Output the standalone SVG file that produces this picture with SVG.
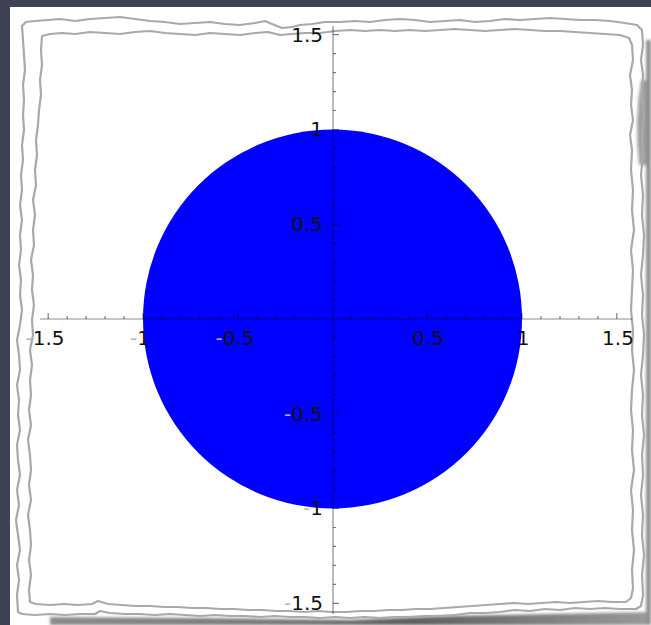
<svg xmlns="http://www.w3.org/2000/svg" width="651" height="625" viewBox="0 0 651 625">
<defs>
<style>
.edge{fill:none;stroke:#a9a9a9;stroke-width:2.2;stroke-linejoin:round}
.axis{stroke:#000;stroke-opacity:0.45;stroke-width:1.2;fill:none}
.tick{stroke:#000;stroke-opacity:0.5;stroke-width:1.2}
.lbl{font-family:"DejaVu Sans","Liberation Sans",sans-serif;font-size:20px;fill:#111}
.neg{fill:#b8b8b8}
</style>
<filter id="soft" x="-5%" y="-5%" width="110%" height="110%"><feGaussianBlur stdDeviation="0.6"/></filter>
<filter id="blur2" x="-20%" y="-20%" width="140%" height="140%"><feGaussianBlur stdDeviation="1.5"/></filter>
<linearGradient id="shadowB" x1="0" y1="0" x2="1" y2="0">
<stop offset="0" stop-color="#8a8a8a"/>
<stop offset="0.35" stop-color="#7a7a7a"/>
<stop offset="0.6" stop-color="#5e5e5e"/>
<stop offset="0.8" stop-color="#7d7d7d"/>
<stop offset="1" stop-color="#9a9a9a"/>
</linearGradient>
</defs>
<rect x="0" y="0" width="651" height="625" fill="#3f4253"/>
<rect x="10" y="7" width="641" height="618" fill="#ffffff"/>
<g id="shadows" filter="url(#blur2)">
<path d="M50,617 L200,618 L350,620 L450,616 L550,614 L651,612 L651,625 L50,625 Z" fill="url(#shadowB)"/>
<path d="M646,40 L651,40 L651,625 L646,625 Z" fill="#8e8e8e"/>
<path d="M641,80 Q634,120 639,165 L646,165 L646,80 Z" fill="#a0a0a0"/>
</g>
<g id="paper-edge" filter="url(#soft)">
<path class="edge" d="M22,26 L26,22 L35,21 L48,20 L60,19 L75,21 L90,19 L105,18 L120,17 L135,19 L150,21 L165,22 L180,24 L195,23 L210,22 L225,24 L240,25 L255,23 L265,21 L272,24 L282,28 L292,27 L300,25 L312,24 L325,22 L340,22 L355,21 L370,22 L385,20 L400,19 L415,20 L430,22 L445,21 L460,20 L475,22 L490,21 L505,19 L520,20 L535,19 L550,18 L565,19 L580,20 L595,20 L610,21 L625,23 L637,25 L642,30 L643,45 L641,60 L643,75 L642,95 L644,115 L642,135 L643,155 L641,175 L643,195 L642,215 L644,235 L643,255 L641,275 L643,295 L642,315 L644,335 L643,355 L641,375 L643,395 L642,415 L644,435 L642,455 L643,475 L641,495 L643,515 L642,535 L644,555 L642,575 L643,595 L641,606 L636,609 L620,609 L605,608 L590,609 L575,608 L560,610 L545,609 L530,611 L515,610 L500,612 L485,613 L470,613 L455,615 L440,616 L425,616 L410,617 L395,617 L380,618 L365,617 L350,618 L335,617 L320,618 L305,617 L290,617 L275,616 L260,617 L245,616 L230,616 L215,615 L200,616 L185,615 L170,614 L155,615 L140,614 L125,614 L110,613 L100,611 L95,614 L80,614 L65,615 L50,614 L35,615 L22,614 L18,612 L17,595 L19,580 L17,565 L20,550 L18,535 L16,520 L19,505 L17,490 L20,475 L18,460 L17,445 L20,430 L18,415 L19,400 L17,385 L20,370 L19,355 L17,340 L20,325 L22,310 L20,295 L21,280 L19,265 L21,250 L20,235 L22,220 L20,205 L22,190 L21,175 L23,160 L22,145 L24,130 L23,115 L24,100 L23,85 L25,70 L24,55 L23,40 Z"/>
<path class="edge" d="M42,36 L50,34 L62,33 L75,34 L90,32 L105,33 L120,34 L135,32 L150,31 L165,33 L180,34 L195,35 L210,33 L225,34 L240,35 L255,33 L268,32 L280,35 L292,34 L305,33 L320,33 L335,31 L350,30 L365,31 L380,30 L395,31 L410,30 L425,31 L440,30 L455,29 L470,30 L485,31 L500,30 L515,29 L530,30 L545,31 L560,31 L575,32 L590,33 L605,34 L620,35 L629,38 L632,45 L633,60 L630,75 L632,90 L631,105 L633,120 L630,135 L632,150 L631,170 L633,190 L632,210 L634,230 L631,250 L633,270 L632,290 L631,310 L633,330 L632,350 L634,370 L632,390 L631,410 L633,430 L632,450 L634,470 L631,490 L633,510 L632,530 L634,550 L632,570 L633,588 L631,598 L626,602 L612,602 L598,601 L584,602 L570,603 L556,602 L542,603 L528,604 L514,603 L500,604 L486,605 L472,606 L458,607 L444,608 L430,609 L416,609 L402,610 L388,610 L374,611 L360,611 L346,612 L332,612 L318,611 L304,612 L290,611 L276,611 L262,610 L248,610 L234,609 L220,609 L206,608 L192,608 L178,607 L164,607 L150,606 L136,606 L122,605 L108,604 L98,601 L92,604 L78,605 L64,604 L50,605 L36,604 L30,602 L29,590 L31,575 L29,560 L31,545 L30,530 L28,515 L31,500 L29,485 L31,470 L30,455 L28,440 L31,425 L29,410 L31,395 L30,380 L32,365 L30,350 L33,335 L32,320 L34,305 L32,290 L33,275 L31,260 L34,245 L33,230 L35,215 L33,200 L36,185 L35,170 L37,155 L36,140 L38,125 L39,110 L41,95 L40,80 L42,65 L41,50 Z"/>
</g>
<g id="plot">
<circle id="disk" cx="332.5" cy="319" r="189.5" fill="#0000ff"/>
<line class="axis" x1="40" y1="319" x2="632" y2="319"/>
<line class="axis" x1="333" y1="26" x2="333" y2="614"/>
<g id="xticks" class="tick">
<path d="M48.2,319v-6 M67.2,319v-3 M86.1,319v-3 M105.1,319v-3 M124.0,319v-3 M143,319v-6 M162,319v-3 M180.9,319v-3 M199.9,319v-3 M218.8,319v-3 M237.8,319v-6 M256.7,319v-3 M275.7,319v-3 M294.6,319v-3 M313.6,319v-3 M351.5,319v-3 M370.5,319v-3 M389.4,319v-3 M408.4,319v-3 M427.3,319v-6 M446.3,319v-3 M465.2,319v-3 M484.2,319v-3 M503.1,319v-3 M522,319v-6 M541,319v-3 M560,319v-3 M578.9,319v-3 M597.9,319v-3 M616.8,319v-6"/>
</g>
<g id="yticks" class="tick">
<path d="M333,34.7h6 M333,53.7h3 M333,72.6h3 M333,91.6h3 M333,110.5h3 M333,129.5h6 M333,148.5h3 M333,167.4h3 M333,186.4h3 M333,205.3h3 M333,224.3h6 M333,243.2h3 M333,262.2h3 M333,281.1h3 M333,300.1h3 M333,337.9h3 M333,356.9h3 M333,375.8h3 M333,394.8h3 M333,413.7h6 M333,432.7h3 M333,451.6h3 M333,470.6h3 M333,489.5h3 M333,508.5h6 M333,527.5h3 M333,546.4h3 M333,565.4h3 M333,584.3h3 M333,603.3h6"/>
</g>
<g id="xlabels" class="lbl" text-anchor="middle">
<text x="45" y="345"><tspan class="neg">-</tspan>1.5</text>
<text x="140" y="345"><tspan class="neg">-</tspan>1</text>
<text x="235" y="345"><tspan class="neg">-</tspan>0.5</text>
<text x="428" y="345">0.5</text>
<text x="523" y="345">1</text>
<text x="618" y="345">1.5</text>
</g>
<g id="ylabels" class="lbl" text-anchor="end">
<text x="323" y="42">1.5</text>
<text x="323" y="136">1</text>
<text x="323" y="231">0.5</text>
<text x="323" y="421"><tspan class="neg">-</tspan>0.5</text>
<text x="323" y="515"><tspan class="neg">-</tspan>1</text>
<text x="323" y="610"><tspan class="neg">-</tspan>1.5</text>
</g>
</g>
</svg>
